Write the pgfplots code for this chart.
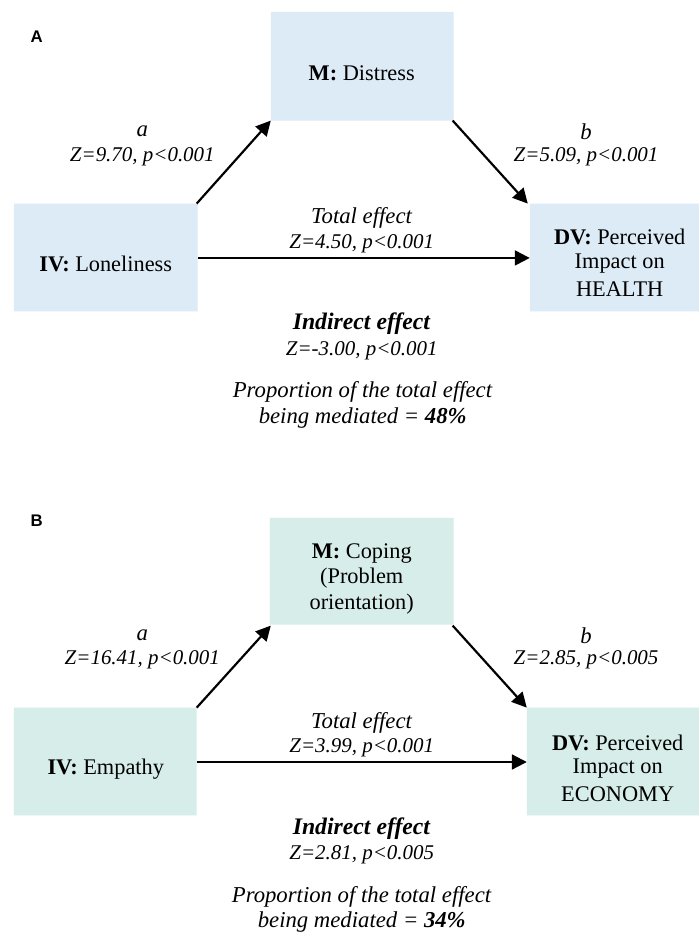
\documentclass[border=0pt]{standalone}
\usepackage{fontspec}
\setmainfont{Liberation Serif}
\newfontfamily\labfont{Liberation Sans}
\usepackage{pgfplots}
\pgfplotsset{compat=1.18}
\usetikzlibrary{arrows.meta}
\definecolor{boxA}{HTML}{DDEBF7}
\definecolor{boxB}{HTML}{D7EDE9}
\newcommand{\rf}{\fontsize{11.3}{13}\selectfont}
\newcommand{\zf}{\fontsize{10.6}{13}\selectfont}
\newcommand{\itf}{\fontsize{11.5}{13}\selectfont}
\newcommand{\bif}{\fontsize{12}{13}\selectfont}
\begin{document}
\begin{tikzpicture}
\begin{axis}[
  xmin=0, xmax=707, ymin=0, ymax=939, y dir=reverse,
  width=353.5pt, height=469.5pt, scale only axis, hide axis, clip=false,
  every node/.style={inner sep=0pt, anchor=base},
]
% background (for bounding box)
\addplot[fill=white, draw=none] coordinates {(0,0) (707,0) (707,939) (0,939) (0,0)};
% ---------- Panel A boxes ----------
\addplot[fill=boxA, draw=none] coordinates {(274,12) (459,12) (459,122) (274,122) (274,12)};
\addplot[fill=boxA, draw=none] coordinates {(14,206) (200,206) (200,315) (14,315) (14,206)};
\addplot[fill=boxA, draw=none] coordinates {(536,206) (707,206) (707,315) (536,315) (536,206)};
% ---------- Panel A arrows ----------
\addplot[line width=1.1pt, -{Triangle[length=7.5pt,width=7.5pt]}] coordinates {(199,206) (274,122)};
\addplot[line width=1.1pt, -{Triangle[length=7.5pt,width=7.5pt]}] coordinates {(458,122) (534,206)};
\addplot[line width=1.1pt, -{Triangle[length=7.5pt,width=7.5pt]}] coordinates {(200,261) (536,261)};
% ---------- Panel B boxes ----------
\addplot[fill=boxB, draw=none] coordinates {(273,524) (459,524) (459,632) (273,632) (273,524)};
\addplot[fill=boxB, draw=none] coordinates {(14,716) (199,716) (199,825) (14,825) (14,716)};
\addplot[fill=boxB, draw=none] coordinates {(533,716) (707,716) (707,825) (533,825) (533,716)};
% ---------- Panel B arrows ----------
\addplot[line width=1.1pt, -{Triangle[length=7.5pt,width=7.5pt]}] coordinates {(199,716) (274,633)};
\addplot[line width=1.1pt, -{Triangle[length=7.5pt,width=7.5pt]}] coordinates {(458,633) (533,716)};
\addplot[line width=1.1pt, -{Triangle[length=7.5pt,width=7.5pt]}] coordinates {(199,771) (533,771)};

% ---------- Panel A text ----------
\node[anchor=center] at (axis cs:37,37) {\labfont\bfseries\fontsize{8.5}{10}\selectfont A};
\node at (axis cs:366,74) {\rf\textbf{M:} Distress};
\node at (axis cs:144,133) {\itf\textit{a}};
\node at (axis cs:144,159) {\zf\textit{Z=9.70, p<0.001}};
\node at (axis cs:593,133) {\itf\textit{b}};
\node at (axis cs:593,159) {\zf\textit{Z=5.09, p<0.001}};
\node at (axis cs:366,220) {\itf\textit{Total effect}};
\node at (axis cs:366,247) {\zf\textit{Z=4.50, p<0.001}};
\node at (axis cs:107,267) {\rf\textbf{IV:} Loneliness};
\node at (axis cs:627,240) {\rf\textbf{DV:} Perceived};
\node at (axis cs:627,267) {\rf Impact on};
\node at (axis cs:627,293) {\rf HEALTH};
\node at (axis cs:366,328) {\bif\textbf{\textit{Indirect effect}}};
\node at (axis cs:366,355) {\zf\textit{Z=-3.00, p<0.001}};
\node at (axis cs:367,397) {\itf\textit{Proportion of the total effect}};
\node at (axis cs:367,423) {\itf\textit{being mediated = \textbf{48\%}}};

% ---------- Panel B text ----------
\node[anchor=center] at (axis cs:37,527) {\labfont\bfseries\fontsize{8.5}{10}\selectfont B};
\node at (axis cs:366,560) {\rf\textbf{M:} Coping};
\node at (axis cs:366,585) {\rf(Problem};
\node at (axis cs:366,611) {\rf orientation)};
\node at (axis cs:144,643) {\itf\textit{a}};
\node at (axis cs:144,668) {\zf\textit{Z=16.41, p<0.001}};
\node at (axis cs:593,643) {\itf\textit{b}};
\node at (axis cs:593,668) {\zf\textit{Z=2.85, p<0.005}};
\node at (axis cs:366,731) {\itf\textit{Total effect}};
\node at (axis cs:366,757) {\zf\textit{Z=3.99, p<0.001}};
\node at (axis cs:107,778) {\rf\textbf{IV:} Empathy};
\node at (axis cs:625,752) {\rf\textbf{DV:} Perceived};
\node at (axis cs:625,778) {\rf Impact on};
\node at (axis cs:625,804) {\rf ECONOMY};
\node at (axis cs:366,838) {\bif\textbf{\textit{Indirect effect}}};
\node at (axis cs:366,865) {\zf\textit{Z=2.81, p<0.005}};
\node at (axis cs:366,907) {\itf\textit{Proportion of the total effect}};
\node at (axis cs:366,933) {\itf\textit{being mediated = \textbf{34\%}}};
\end{axis}
\end{tikzpicture}
\end{document}
